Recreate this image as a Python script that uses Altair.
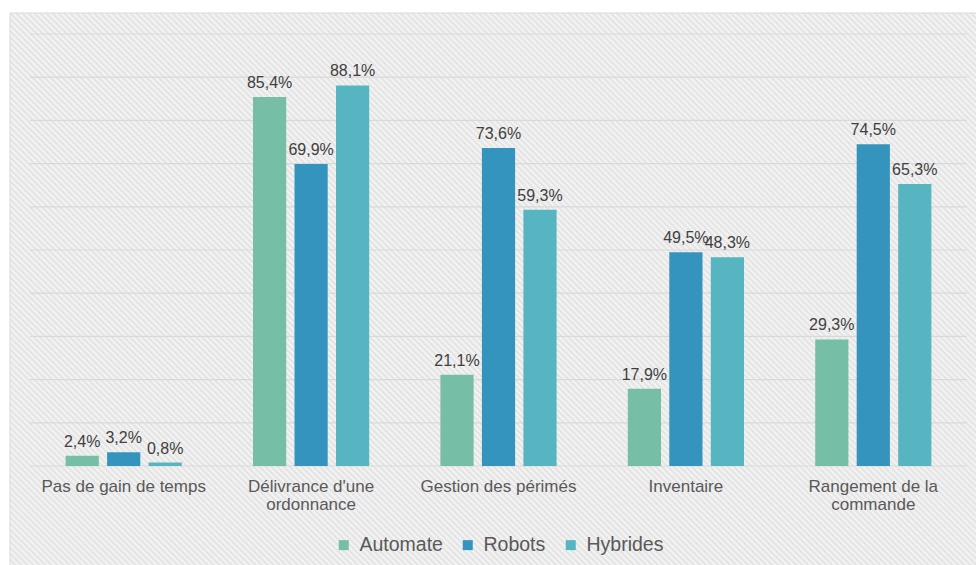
import altair as alt
import pandas as pd

categories = [
    "Pas de gain de temps",
    "Délivrance d'une|ordonnance",
    "Gestion des périmés",
    "Inventaire",
    "Rangement de la|commande",
]
series = ["Automate", "Robots", "Hybrides"]
automate = [2.4, 85.4, 21.1, 17.9, 29.3]
robots = [3.2, 69.9, 73.6, 49.5, 74.5]
hybrides = [0.8, 88.1, 59.3, 48.3, 65.3]
grid_values = [0, 10, 20, 30, 40, 50, 60, 70, 80, 90, 100]
colors = ["#76BEA6", "#3494BE", "#57B5C2"]

rows = []
for name, vals in zip(series, [automate, robots, hybrides]):
    for c, v in zip(categories, vals):
        rows.append({"cat": c, "serie": name, "val": v,
                     "label": f"{v:.1f}".replace(".", ",") + "%"})
df = pd.DataFrame(rows)
grid_df = pd.DataFrame({"g": grid_values})

# hatched background as a striped linear gradient (style only)
n_stripes = 333
stops = []
for k in range(n_stripes):
    stops.append(alt.GradientStop(offset=k / n_stripes, color="#f6f6f6"))
    stops.append(alt.GradientStop(offset=(k + 0.5) / n_stripes, color="#e1e1e1"))
stops.append(alt.GradientStop(offset=1.0, color="#f6f6f6"))

bg = alt.Chart(alt.Data(values=[{"a": 1}])).mark_rect(
    fill=alt.Gradient(gradient="linear", stops=stops, x1=0, y1=1, x2=1, y2=0),
    stroke="#d9d9d9", strokeWidth=1,
).encode(
    x=alt.value(-20), x2=alt.value(980), y=alt.value(-21), y2=alt.value(979)
)

yscale = alt.Scale(domain=[0, 100])

grid = alt.Chart(grid_df).mark_rule(color="#d9d9d9", strokeWidth=1.2).encode(
    y=alt.Y("g:Q", scale=yscale, axis=None),
    x=alt.value(0), x2=alt.value(937),
)

FONT = "Liberation Sans"

base = alt.Chart(df).encode(
    x=alt.X("cat:N", sort=categories, title=None,
            scale=alt.Scale(paddingInner=0.38, paddingOuter=0.19),
            axis=alt.Axis(labelExpr="split(datum.label, '|')", labelAngle=0,
                          labelFontSize=17, labelColor="#595959",
                          labelFont=FONT, labelPadding=12,
                          labelLineHeight=18, ticks=False, domain=False,
                          grid=False, zindex=1)),
    xOffset=alt.XOffset("serie:N", sort=series,
                        scale=alt.Scale(paddingInner=0.2, paddingOuter=0)),
)

bars = base.mark_bar().encode(
    y=alt.Y("val:Q", title=None, scale=yscale, axis=None),
    color=alt.Color("serie:N", sort=series,
                    scale=alt.Scale(domain=series, range=colors),
                    legend=alt.Legend(title=None, orient="none", direction="horizontal",
                                      legendX=304, legendY=501, symbolType="square",
                                      symbolSize=100, symbolStrokeWidth=0,
                                      labelFontSize=19.5, labelColor="#595959",
                                      labelFont=FONT, labelOffset=6,
                                      columnPadding=15, padding=0)),
)

texts = base.mark_text(baseline="alphabetic", dy=-9, fontSize=16,
                       font=FONT, color="#404040").encode(
    y=alt.Y("val:Q", scale=yscale, axis=None), text="label:N"
)

chart = alt.layer(bg, grid, bars, texts).properties(
    width=937, height=432,
    padding={"left": 30, "top": 34, "right": 9, "bottom": 99},
    autosize=alt.AutoSizeParams(type="none"),
    background="white",
).configure_view(stroke=None)

chart.save("out.html", embed_options={"renderer": "svg", "actions": False})
